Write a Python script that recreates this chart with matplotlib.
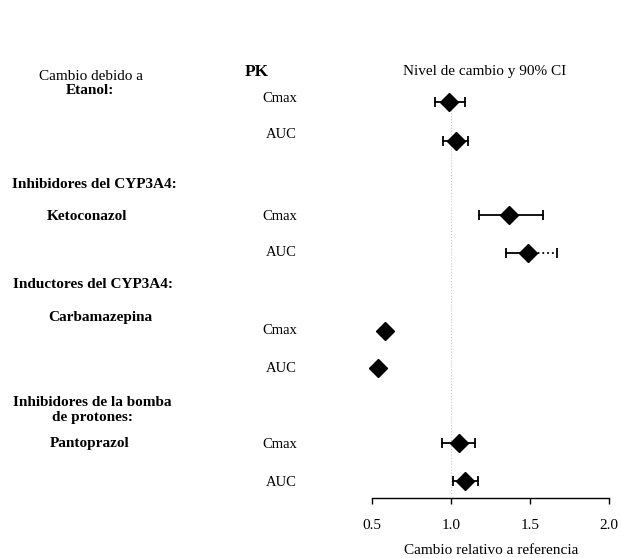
import matplotlib
matplotlib.use("Agg")
import matplotlib.pyplot as plt
import numpy as np

plt.rcParams['font.family'] = ['Liberation Serif', 'DejaVu Serif']

# Data: ratio estimate and 90% CI for each PK row (top to bottom)
pk_labels = ['Cmax', 'AUC', 'Cmax', 'AUC', 'Cmax', 'AUC', 'Cmax', 'AUC']
ratio = [0.99, 1.03, 1.37, 1.49, 0.58, 0.54, 1.05, 1.09]
ci_low = [0.90, 0.95, 1.18, 1.35, np.nan, np.nan, 0.94, 1.01]
ci_high = [1.09, 1.11, 1.58, 1.67, np.nan, np.nan, 1.15, 1.17]
x_ticks = [0.5, 1.0, 1.5, 2.0]
x_ticklabels = ['0.5', '1.0', '1.5', '2.0']

# layout (pixel rows of each PK line in a 621x558 canvas)
W, H = 621, 558
row_y = [102, 141, 215, 253, 331, 368, 443, 481]
upper_dotted = [False, False, False, True, False, False, False, False]


def fx(px):
    return px / W


def fy(py):
    return 1 - py / H


fig = plt.figure(figsize=(6.21, 5.58), dpi=100)
# axis occupies x pixel 372..609 (0.5..2.0), y pixel 60..498
ax = fig.add_axes([fx(372), fy(498), fx(609) - fx(372), (498 - 60) / H])
ax.set_xlim(0.5, 2.0)
ax.set_ylim(498, 60)

# reference line at 1.0
ax.plot([1.0, 1.0], [95, 494], color='#c8c8c8', lw=0.8, ls=':', zorder=1)

for i in range(len(ratio)):
    y = row_y[i]
    if not np.isnan(ci_low[i]):
        ax.plot([ci_low[i], ratio[i]], [y, y], color='black', lw=1.3, zorder=2)
        ax.plot([ratio[i], ci_high[i]], [y, y], color='black', lw=1.3,
                ls=':' if upper_dotted[i] else '-', zorder=2)
        ax.plot([ci_low[i], ci_high[i]], [y, y], ls='none', marker='|',
                ms=7, mew=1.3, color='black', zorder=2)
    ax.plot(ratio[i], y, marker='D', ms=9, color='black', zorder=3, clip_on=False)

for s in ['left', 'right', 'top']:
    ax.spines[s].set_visible(False)
ax.spines['bottom'].set_linewidth(1.0)
ax.set_yticks([])
ax.set_xticks(x_ticks)
ax.set_xticklabels(x_ticklabels, fontsize=11)
ax.tick_params(axis='x', direction='out', length=4, width=1.0, pad=11)

fs = 11

# column headers
fig.text(fx(91), fy(77), 'Cambio debido a', ha='center', va='center', fontsize=fs)
fig.text(fx(90), fy(91), 'Etanol:', ha='center', va='center', fontsize=fs, weight='bold')
fig.text(fx(245), fy(72), 'PK', ha='left', va='center', fontsize=12.5, weight='bold')
fig.text(fx(485), fy(71), 'Nivel de cambio y 90% CI', ha='center', va='center', fontsize=fs)

# group labels
fig.text(fx(12), fy(184), 'Inhibidores del CYP3A4:', ha='left', va='center', fontsize=fs, weight='bold')
fig.text(fx(87), fy(216), 'Ketoconazol', ha='center', va='center', fontsize=fs, weight='bold')
fig.text(fx(13), fy(285), 'Inductores del CYP3A4:', ha='left', va='center', fontsize=fs, weight='bold')
fig.text(fx(100), fy(317), 'Carbamazepina', ha='center', va='center', fontsize=fs, weight='bold')
fig.text(fx(13), fy(402), 'Inhibidores de la bomba', ha='left', va='center', fontsize=fs, weight='bold')
fig.text(fx(93), fy(418), 'de protones:', ha='center', va='center', fontsize=fs, weight='bold')
fig.text(fx(90), fy(444), 'Pantoprazol', ha='center', va='center', fontsize=fs, weight='bold')

# PK labels
pk_text_y = [98, 135, 216, 253, 331, 369, 444, 483]
for lab, y in zip(pk_labels, pk_text_y):
    fig.text(fx(297), fy(y), lab, ha='right', va='center', fontsize=10.5)

fig.text(fx(491), fy(551), 'Cambio relativo a referencia', ha='center', va='center', fontsize=fs)

fig.savefig('out.png', dpi=100)
